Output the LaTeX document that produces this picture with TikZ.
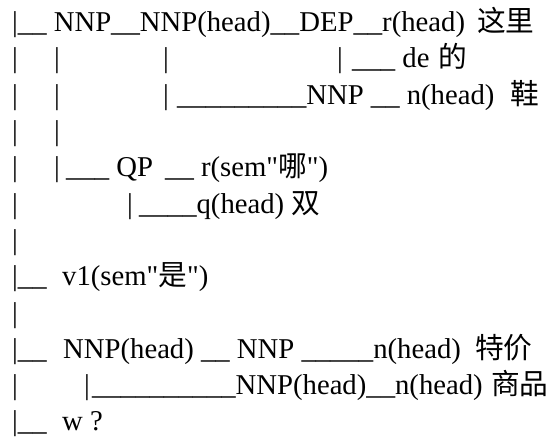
\documentclass[tikz,border=0pt]{standalone}
\usepackage{fontspec}
\setmainfont{Liberation Serif}
\newfontfamily\cjk{Noto Sans CJK SC}
\newfontfamily\qf{Liberation Serif}
\newcommand\dgfs{\fontsize{28.7}{34}\selectfont}
\newcommand\dq{{\qf\char34}}
\begin{document}
\begin{tikzpicture}[x=1pt,y=-1pt,
  t/.style={anchor=base west,inner sep=0pt,font=\dgfs},
  p/.style={anchor=base,inner sep=0pt,font=\dgfs}]
\useasboundingbox (0,0) rectangle (557,443);
% line 1
\node[t] (a1) at (12,32) {|\_\_ NNP\_\_NNP(head)\_\_DEP\_\_r(head)};
\node[t] (a2) at (477,32) {\cjk 这里};
% line 2
\node[p] (b1) at (15,68) {|};
\node[p] (b2) at (57,68) {|};
\node[p] (b3) at (166,68) {|};
\node[p] (b4) at (340,68) {|};
\node[t] (b5) at (352,68) {\_\_\_ de};
\node[t] (b6) at (438,68) {\cjk 的};
% line 3
\node[p] (c1) at (15,105) {|};
\node[p] (c2) at (57,105) {|};
\node[p] (c3) at (166,105) {|};
\node[t] (c4) at (177,105) {\_\_\_\_\_\_\_\_\_NNP \_\_ n(head)};
\node[t] (c5) at (510,105) {\cjk 鞋};
% line 4
\node[p] (d1) at (15,141) {|};
\node[p] (d2) at (57,141) {|};
% line 5
\node[p] (e1) at (15,177) {|};
\node[p] (e2) at (57,177) {|};
\node[t] (e3) at (66,177) {\_\_\_ QP};
\node[t] (e4) at (165,177) {\_\_ r(sem\dq{\cjk 哪}\dq)};
% line 6
\node[p] (f1) at (15,214) {|};
\node[p] (f2) at (130,214) {|};
\node[t] (f3) at (139,214) {\_\_\_\_q(head) {\cjk 双}};
% line 7
\node[p] (g1) at (15,250) {|};
% line 8
\node[t] (h1) at (12,286) {|\_\_};
\node[t] (h2) at (62,286) {v1(sem\dq{\cjk 是}\dq)};
% line 9
\node[p] (i1) at (15,323) {|};
% line 10
\node[t] (j1) at (12,359) {|\_\_};
\node[t] (j2) at (63,359) {NNP(head) \_\_ NNP \_\_\_\_\_n(head)};
\node[t] (j3) at (475,359) {\cjk 特价};
% line 11
\node[p] (k1) at (15,395) {|};
\node[p] (k2) at (87,395) {|};
\node[t] (k3) at (92,395) {\_\_\_\_\_\_\_\_\_\_NNP(head)\_\_n(head)};
\node[t] (k4) at (491,395) {\cjk 商品};
% line 12
\node[t] (l1) at (12,431) {|\_\_};
\node[t] (l2) at (62,431) {w ?};
\end{tikzpicture}
\end{document}
